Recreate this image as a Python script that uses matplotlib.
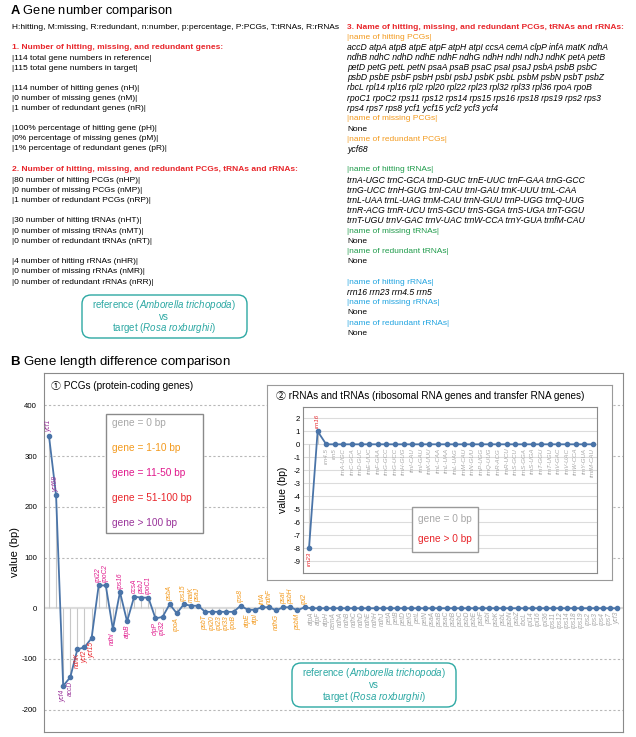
import matplotlib
matplotlib.use("Agg")
import matplotlib.pyplot as plt
from matplotlib.patches import FancyBboxPatch, Rectangle

plt.rcParams["font.family"] = ["Liberation Sans", "Noto Sans CJK SC", "DejaVu Sans"]
plt.rcParams["axes.unicode_minus"] = False
plt.rcParams["mathtext.fontset"] = "custom"
plt.rcParams["mathtext.rm"] = "Liberation Sans"
plt.rcParams["mathtext.it"] = "Liberation Sans:italic"
plt.rcParams["mathtext.bf"] = "Liberation Sans:bold"

W, H = 636, 737

# ---- data -----------------------------------------------------------------
pcg_genes = ["ycf1", "ycf68", "ycf4", "accD", "ndhK", "ycf2", "ycf15", "rpl22", "rpoC2",
             "ndhI", "rps16", "atpB", "ccsA", "psbJ", "rpoC1", "clpP", "rpl32", "psbA",
             "rpoA", "rps15", "matK", "psaJ", "psbT", "rpl20", "rpl23", "rpl33", "rpoB",
             "rps8", "atpE", "atpI", "infA", "ndhF", "ndhG", "psaI", "psbH", "psbM", "rpl2",
             "atpA", "atpF", "atpH", "cemA", "ndhA", "ndhB", "ndhC", "ndhD", "ndhE", "ndhH",
             "ndhJ", "petA", "petB", "petD", "petG", "petL", "petN", "psaA", "psaB", "psaC",
             "psbB", "psbC", "psbD", "psbE", "psbF", "psbI", "psbK", "psbL", "psbN", "psbZ",
             "rbcL", "rpl14", "rpl16", "rpl36", "rps11", "rps12", "rps14", "rps18", "rps19",
             "rps2", "rps3", "rps4", "rps7", "ycf3"]
pcg_diff = [340, 223, -153, -136, -81, -77, -59, 45, 45,
            -41, 32, -26, 23, 21, 21, -20, -17, 8,
            -10, 8, 5, 5, -7, -7, -7, -7, -7,
            5, -3, -3, 2, 2, -4, 2, 2, -4, 2] + [0] * 44

rna_genes = ["rrn23", "rrn16", "rrn4.5", "rrn5",
             "trnA-UGC", "trnC-GCA", "trnD-GUC", "trnE-UUC", "trnF-GAA", "trnG-GCC",
             "trnG-UCC", "trnH-GUG", "trnI-CAU", "trnI-GAU", "trnK-UUU", "trnL-CAA",
             "trnL-UAA", "trnL-UAG", "trnM-CAU", "trnN-GUU", "trnP-UGG", "trnQ-UUG",
             "trnR-ACG", "trnR-UCU", "trnS-GCU", "trnS-GGA", "trnS-UGA", "trnT-GGU",
             "trnT-UGU", "trnV-GAC", "trnV-UAC", "trnW-CCA", "trnY-GUA", "trnfM-CAU"]
rna_diff = [-8, 1] + [0] * 32

counts_lines = [
    "|114 total gene numbers in reference|", "|115 total gene numbers in target|", "",
    "|114 number of hitting genes (nH)|", "|0 number of missing genes (nM)|",
    "|1 number of redundant genes (nR)|", "",
    "|100% percentage of hitting gene (pH)|", "|0% percentage of missing genes (pM)|",
    "|1% percentage of redundant genes (pR)|",
]
type_lines = [
    "|80 number of hitting PCGs (nHP)|", "|0 number of missing PCGs (nMP)|",
    "|1 number of redundant PCGs (nRP)|", "",
    "|30 number of hitting tRNAs (nHT)|", "|0 number of missing tRNAs (nMT)|",
    "|0 number of redundant tRNAs (nRT)|", "",
    "|4 number of hitting rRNAs (nHR)|", "|0 number of missing rRNAs (nMR)|",
    "|0 number of redundant rRNAs (nRR)|",
]
hit_pcg_lines = [
    "accD atpA atpB atpE atpF atpH atpI ccsA cemA clpP infA matK ndhA",
    "ndhB ndhC ndhD ndhE ndhF ndhG ndhH ndhI ndhJ ndhK petA petB",
    "petD petG petL petN psaA psaB psaC psaI psaJ psbA psbB psbC",
    "psbD psbE psbF psbH psbI psbJ psbK psbL psbM psbN psbT psbZ",
    "rbcL rpl14 rpl16 rpl2 rpl20 rpl22 rpl23 rpl32 rpl33 rpl36 rpoA rpoB",
    "rpoC1 rpoC2 rps11 rps12 rps14 rps15 rps16 rps18 rps19 rps2 rps3",
    "rps4 rps7 rps8 ycf1 ycf15 ycf2 ycf3 ycf4",
]
hit_trna_lines = [
    "trnA-UGC trnC-GCA trnD-GUC trnE-UUC trnF-GAA trnG-GCC",
    "trnG-UCC trnH-GUG trnI-CAU trnI-GAU trnK-UUU trnL-CAA",
    "trnL-UAA trnL-UAG trnM-CAU trnN-GUU trnP-UGG trnQ-UUG",
    "trnR-ACG trnR-UCU trnS-GCU trnS-GGA trnS-UGA trnT-GGU",
    "trnT-UGU trnV-GAC trnV-UAC trnW-CCA trnY-GUA trnfM-CAU",
]
legend_pcg = ["gene = 0 bp", "gene = 1-10 bp", "gene = 11-50 bp", "gene = 51-100 bp", "gene > 100 bp"]

RED, ORANGE, MAGENTA, PURPLE, GRAY = "#e8262b", "#f39a1e", "#e0198c", "#993399", "#a8a8a8"
GREEN, BLUE, TEAL, LINE = "#1e9b4a", "#1fa3e0", "#2ca8a3", "#4a74a8"
legend_cols = [GRAY, ORANGE, MAGENTA, RED, PURPLE]


def cls_color(v):
    a = abs(v)
    if a == 0:
        return GRAY
    if a <= 10:
        return ORANGE
    if a <= 50:
        return MAGENTA
    if a <= 100:
        return RED
    return PURPLE


def px_axes(x0, y0, x1, y1, **kw):
    return fig.add_axes([x0 / W, 1 - y1 / H, (x1 - x0) / W, (y1 - y0) / H], **kw)


fig = plt.figure(figsize=(W / 100, H / 100), dpi=100)

# ---- panel B: PCGs ----------------------------------------------------------
ax = px_axes(44, 373, 623, 732)
x = list(range(len(pcg_genes)))
for v in [-200, -100, 100, 200, 300, 400]:
    ax.axhline(v, color="#b8b8b8", lw=0.8, ls=(0, (2, 2)), zorder=0)
ax.axhline(0, color="#dcdcdc", lw=1.6, zorder=0)
ax.vlines(x, 0, pcg_diff, color="#c8c8c8", lw=0.8, zorder=1)
ax.plot(x, pcg_diff, color=LINE, lw=1.3, marker="o", ms=3, zorder=3)
for i, (g, v) in enumerate(zip(pcg_genes, pcg_diff)):
    up = v > 0
    ax.annotate(g, (i, v), xytext=(0, 2.5 if up else -2.5), textcoords="offset points",
                rotation=90, ha="center", va="bottom" if up else "top",
                fontsize=4.8, style="italic", color=cls_color(v))
ax.set_xlim(-0.7, 80.85)
ax.set_ylim(-244, 464)
ax.set_yticks([-200, -100, 0, 100, 200, 300, 400])
ax.tick_params(axis="y", length=0, labelsize=5.6, pad=5)
ax.set_xticks([])
for s in ax.spines.values():
    s.set_color("#8a8a8a")

# ---- panel B: rRNAs & tRNAs inset --------------------------------------------
box = px_axes(267, 385, 612, 580)
box.set_xticks([]); box.set_yticks([])
for s in box.spines.values():
    s.set_color("#9a9a9a")

ai = px_axes(303, 407, 597, 573)
xr = list(range(len(rna_genes)))
for v in range(-9, 3):
    ai.axhline(v, color="#dcdcdc", lw=0.8, zorder=0)
ai.vlines(xr, 0, rna_diff, color="#c8c8c8", lw=0.8, zorder=1)
ai.plot(xr, rna_diff, color=LINE, lw=1.3, marker="o", ms=3, zorder=3)
for i, (g, v) in enumerate(zip(rna_genes, rna_diff)):
    up = v > 0
    ai.annotate(g, (i, v), xytext=(0, 2.5 if up else -2.5), textcoords="offset points",
                rotation=90, ha="center", va="bottom" if up else "top",
                fontsize=4.4, style="italic", color=GRAY if v == 0 else RED)
ai.set_xlim(-0.7, 33.5)
ai.set_ylim(-9.9, 2.87)
ai.set_yticks(range(-9, 3))
ai.tick_params(axis="y", length=0, labelsize=5.6, pad=2)
ai.set_xticks([])
for s in ai.spines.values():
    s.set_color("#8a8a8a")

# ---- overlay in pixel coordinates ---------------------------------------------
ov = fig.add_axes([0, 0, 1, 1], zorder=10)
ov.set_xlim(0, W); ov.set_ylim(H, 0); ov.axis("off")

FS = 6.0
GS = 6.2
ov.text(10, 11, r"$\mathbf{A}$ Gene number comparison", fontsize=9.3, va="center")
ov.text(12, 27, "H:hitting, M:missing, R:redundant, n:number, p:percentage, P:PCGs, T:tRNAs, R:rRNAs",
        fontsize=FS, va="center")
ov.text(12, 47, "1. Number of hitting, missing, and redundant genes:", fontsize=FS,
        weight="bold", color=RED, va="center")
for k, t in enumerate(counts_lines):
    ov.text(12, 58 + 10.1 * k, t, fontsize=FS, va="center")
ov.text(12, 169, "2. Number of hitting, missing, and redundant PCGs, tRNAs and rRNAs:",
        fontsize=FS, weight="bold", color=RED, va="center")
for k, t in enumerate(type_lines):
    ov.text(12, 180 + 10.2 * k, t, fontsize=FS, va="center")


def ref_box(cx, y0, y1, x0, x1):
    ov.add_patch(FancyBboxPatch((x0, y0), x1 - x0, y1 - y0,
                                boxstyle="round,pad=0,rounding_size=9",
                                fc="white", ec=TEAL, lw=1.0))
    h = (y1 - y0)
    ov.text(cx, y0 + 0.23 * h, r"reference ($\mathit{Amborella\ trichopoda}$)",
            fontsize=7, color=TEAL, ha="center", va="center")
    ov.text(cx, y0 + 0.5 * h, "vs", fontsize=7, color=TEAL, ha="center", va="center")
    ov.text(cx, y0 + 0.77 * h, r"target ($\mathit{Rosa\ roxburghii}$)",
            fontsize=7, color=TEAL, ha="center", va="center")


ref_box(164, 295, 338, 82, 247)

# right column
RX = 347
ov.text(RX, 27, "3. Name of hitting, missing, and redundant PCGs, tRNAs and rRNAs:",
        fontsize=FS, weight="bold", color=RED, va="center")
ov.text(RX, 37, "|name of hitting PCGs|", fontsize=FS, color=ORANGE, va="center")
for k, t in enumerate(hit_pcg_lines):
    ov.text(RX, 47.5 + 10.1 * k, t, fontsize=GS, style="italic", va="center")
ov.text(RX, 118, "|name of missing PCGs|", fontsize=FS, color=ORANGE, va="center")
ov.text(RX, 129, "None", fontsize=FS, va="center")
ov.text(RX, 139, "|name of redundant PCGs|", fontsize=FS, color=ORANGE, va="center")
ov.text(RX, 149, "ycf68", fontsize=GS, style="italic", va="center")
ov.text(RX, 169, "|name of hitting tRNAs|", fontsize=FS, color=GREEN, va="center")
for k, t in enumerate(hit_trna_lines):
    ov.text(RX, 180 + 10.1 * k, t, fontsize=GS, style="italic", va="center")
ov.text(RX, 231, "|name of missing tRNAs|", fontsize=FS, color=GREEN, va="center")
ov.text(RX, 241, "None", fontsize=FS, va="center")
ov.text(RX, 251, "|name of redundant tRNAs|", fontsize=FS, color=GREEN, va="center")
ov.text(RX, 261, "None", fontsize=FS, va="center")
ov.text(RX, 282, "|name of hitting rRNAs|", fontsize=FS, color=BLUE, va="center")
ov.text(RX, 292, "rrn16 rrn23 rrn4.5 rrn5", fontsize=GS, style="italic", va="center")
ov.text(RX, 302, "|name of missing rRNAs|", fontsize=FS, color=BLUE, va="center")
ov.text(RX, 312, "None", fontsize=FS, va="center")
ov.text(RX, 323, "|name of redundant rRNAs|", fontsize=FS, color=BLUE, va="center")
ov.text(RX, 333, "None", fontsize=FS, va="center")

# panel B titles and labels
ov.text(10, 362, r"$\mathbf{B}$ Gene length difference comparison", fontsize=9.5, va="center")
ov.text(51, 386, "\u2460 PCGs (protein-coding genes)", fontsize=7.2, va="center")
ov.text(15, 552, "value (bp)", fontsize=8, rotation=90, ha="center", va="center")
ov.text(276, 396, "\u2461 rRNAs and tRNAs (ribosomal RNA genes and transfer RNA genes)",
        fontsize=7.2, va="center")
ov.text(283, 490, "value (bp)", fontsize=7.5, rotation=90, ha="center", va="center")

# legend boxes
ov.add_patch(Rectangle((106, 414), 97, 119, fc="white", ec="#8a8a8a", lw=1.0))
for k, (t, c) in enumerate(zip(legend_pcg, legend_cols)):
    ov.text(112, 422.7 + 25.2 * k, t, fontsize=7.3, color=c, va="center")
ov.add_patch(Rectangle((412, 507), 66, 45, fc="white", ec="#9a9a9a", lw=1.0))
ov.text(418, 519, "gene = 0 bp", fontsize=7.3, color=GRAY, va="center")
ov.text(418, 539, "gene > 0 bp", fontsize=7.3, color=RED, va="center")

ref_box(374, 663, 707, 292, 456)

fig.savefig("out.png", dpi=100)
